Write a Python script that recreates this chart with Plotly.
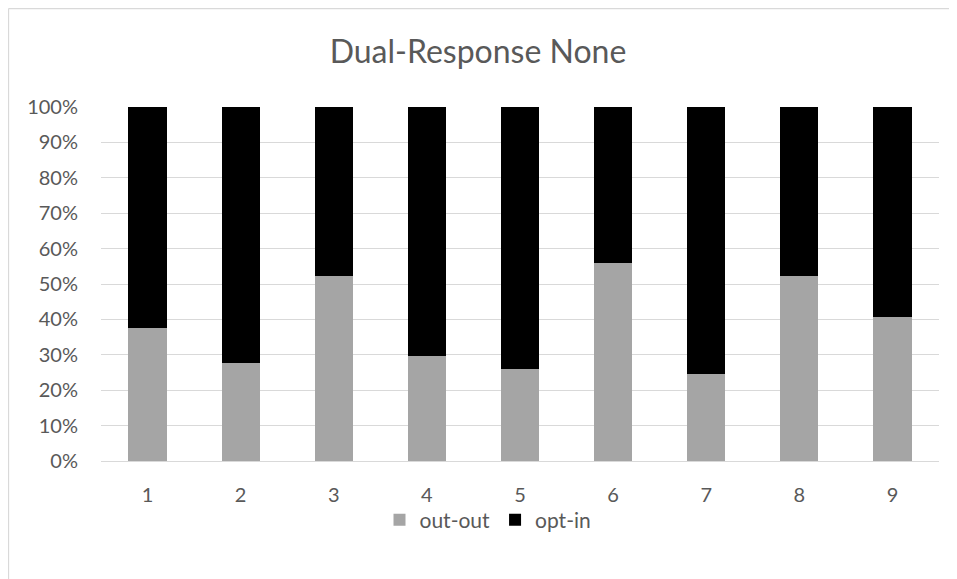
import plotly.graph_objects as go

categories = ["1", "2", "3", "4", "5", "6", "7", "8", "9"]
out_out = [37.7, 27.8, 52.2, 29.6, 26.0, 55.8, 24.5, 52.2, 40.7]
opt_in = [100 - v for v in out_out]
y_ticks = [0, 10, 20, 30, 40, 50, 60, 70, 80, 90, 100]
y_tick_labels = [f"{t}%" for t in y_ticks]

FONT = "Lato, 'Open Sans', sans-serif"
OFF = 8  # page body margin
W, H = 957 - OFF, 579 - OFF
L, T = 101 - OFF, 107 - OFF
PW, PH = 838, 354
R = W - L - PW
B = H - T - PH

fig = go.Figure()
fig.add_bar(x=categories, y=out_out, name="out-out", marker=dict(color="#a5a5a5", line=dict(width=0)))
fig.add_bar(x=categories, y=opt_in, name="opt-in", marker=dict(color="#000000", line=dict(width=0)))

fig.update_layout(
    barmode="stack",
    bargap=0.59,
    width=W, height=H,
    margin=dict(l=L, r=R, t=T, b=B, autoexpand=False),
    paper_bgcolor="white", plot_bgcolor="white",
    title=dict(text="Dual-Response None", x=(478 - OFF - L) / PW, xref="paper", xanchor="center",
               y=1 - (52 - OFF) / H, yanchor="middle",
               font=dict(family=FONT, size=32, color="#595959")),
    font=dict(family=FONT, size=20, color="#595959"),
    legend=dict(orientation="h", x=(488 - OFF - L) / PW, xanchor="center", y=-(520 - 461) / PH, yanchor="middle",
                bgcolor="rgba(0,0,0,0)",
                font=dict(family=FONT, size=21, color="#595959"), traceorder="normal",
                itemwidth=30),
    xaxis=dict(showgrid=False, showline=False, ticks="", ticklabelstandoff=20,
               tickfont=dict(family=FONT, size=20, color="#595959")),
    yaxis=dict(range=[0, 100], tickvals=y_ticks, ticktext=y_tick_labels, showgrid=True,
               gridcolor="#d9d9d9", gridwidth=1.3, zeroline=True, zerolinecolor="#d9d9d9", zerolinewidth=1.3,
               ticks="", ticklabelstandoff=22, showline=False,
               tickfont=dict(family=FONT, size=20, color="#595959")),
    showlegend=True,
)
# chart border (top and left edges only visible)
fig.add_shape(type="line", xref="paper", yref="paper",
              x0=(0.5 - L) / PW, x1=(W + 50 - L) / PW, y0=(H - B - 0.5) / PH, y1=(H - B - 0.5) / PH,
              line=dict(color="#d9d9d9", width=1.3), layer="below")
fig.add_shape(type="line", xref="paper", yref="paper",
              x0=(0.5 - L) / PW, x1=(0.5 - L) / PW, y0=(H - B - 0.5) / PH, y1=-(B + 50) / PH,
              line=dict(color="#d9d9d9", width=1.3), layer="below")

fig.write_html("out.html")
